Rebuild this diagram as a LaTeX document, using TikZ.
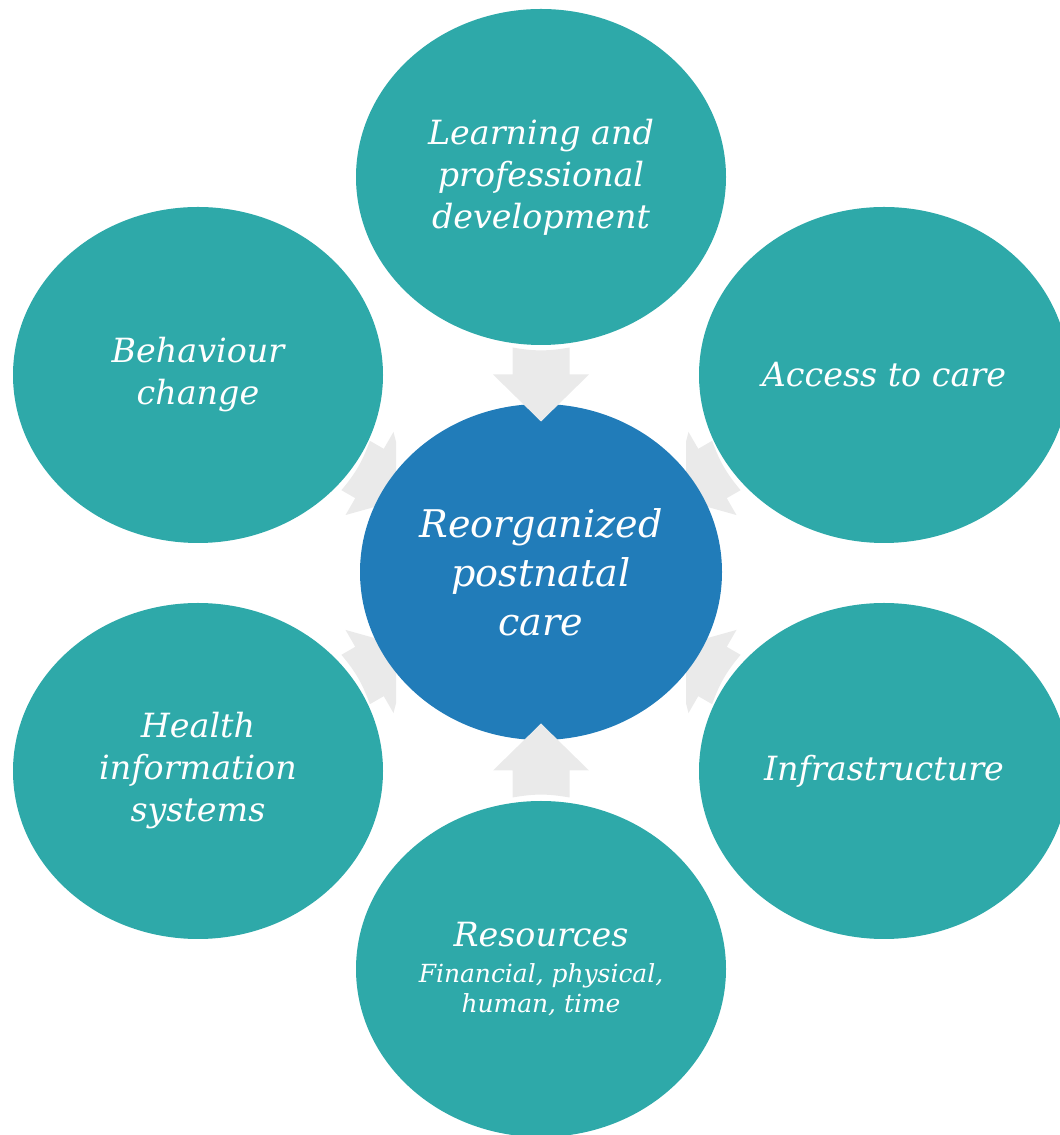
\documentclass[tikz,border=0pt]{standalone}
\usepackage{fontspec}
\usetikzlibrary{shapes.geometric}
\usetikzlibrary{calc}
\newfontfamily\diagfont{DejaVu Serif}
\definecolor{tealfill}{HTML}{2EA9A9}
\definecolor{hubblue}{HTML}{217CB9}
\definecolor{arrowgray}{HTML}{EAEAEA}
\newcommand{\subfont}{\fontsize{18.7}{22.5}\selectfont}
\tikzset{
  outer/.style={ellipse,fill=tealfill,minimum width=277.5pt,minimum height=252pt,inner sep=0pt,
    text=white,align=center,font=\diagfont\itshape\fontsize{25}{31.5}\selectfont},
  hubnode/.style={ellipse,fill=hubblue,minimum width=271.5pt,minimum height=252pt,inner sep=0pt,
    text=white,align=center,font=\diagfont\itshape\fontsize{28.6}{36.75}\selectfont}
}
% block arrow from the middle of #1--centre, pointing at the centre
\newcommand{\convarrow}[3]{%
  \fill[arrowgray,shift={($(#1)!0.5!(centre)$)},rotate=#2]
    (-#3,-28.5) to[bend right=10] (-#3,28.5) -- (0,28.5) -- (0,48) -- (47,0)
    -- (0,-48) -- (0,-28.5) -- cycle;}

\begin{document}
\begin{tikzpicture}[x=0.75pt,y=0.75pt]
\useasboundingbox (0,0) rectangle (1060,1135);
\coordinate (centre) at (541,563);

\node[outer] (learn) at (541,958) {Learning and\\professional\\development};
\node[outer] (behav) at (198,760) {Behaviour\\change};
\node[outer] (access) at (884,760) {Access to care};
\node[outer] (health) at (198,364) {Health\\information\\systems};
\node[outer] (infra) at (884,364) {Infrastructure};
\node[outer] (resour) at (541,166) {Resources\\[-4pt]\subfont Financial, physical,\\[-9pt]\subfont human, time};

\begin{scope}
\clip (0,0) rectangle (396,1135);
\convarrow{behav}{-30}{16}
\convarrow{health}{30}{16}
\end{scope}
\begin{scope}
\clip (686,0) rectangle (1060,1135);
\convarrow{access}{-150}{16}
\convarrow{infra}{150}{16}
\end{scope}

\node[hubnode] (hub) at (centre) {Reorganized\\postnatal\\care};

\convarrow{learn}{-90}{27}
\convarrow{resour}{90}{27}
\end{tikzpicture}
\end{document}
